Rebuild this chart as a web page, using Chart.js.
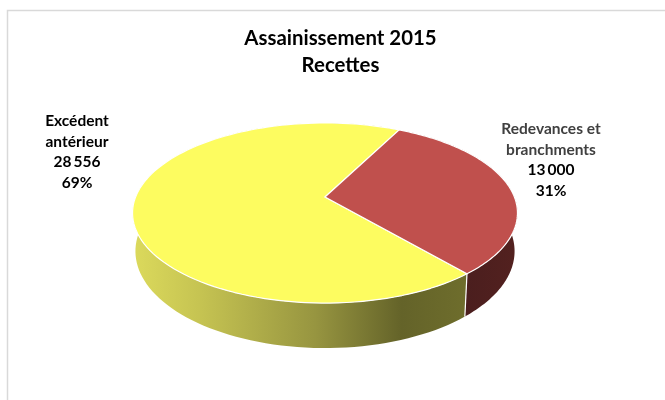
<!DOCTYPE html>
<html lang="fr">
<head>
  <meta charset="UTF-8" />
  <title>Assainissement 2015</title>
  <script src="https://cdn.jsdelivr.net/npm/chart.js"></script>
  <style>
    body { margin: 0; background: #fff; overflow: hidden; }
    canvas { display: block; }
  </style>
</head>
<body>
  <canvas id="pie" width="665" height="400"></canvas>

  <script>
    const titleLines = ['Assainissement 2015', 'Recettes'];
    const categories = ['Excédent antérieur', 'Redevances et branchments'];
    const categoryLines = [['Excédent', 'antérieur'], ['Redevances et', 'branchments']];
    const values = [28556, 13000];
    const valueLabels = ['28\u2009556', '13\u2009000'];
    const percents = ['69%', '31%'];
    const topColors = ['#fdfc60', '#c0504d'];

    // perspective of the tilted disc, measured on the picture
    const cx = 325, cy = 197, ax = 189.4, ay = 87.2, k = 0.1778;
    const depth = 45, shrink = 0.985;

    function rimPoint(a, lower) {
      const X = Math.cos(a), Y = Math.sin(a), w = 1 - k * Y;
      const x = ax * X / w, y = ay * Y / w;
      if (!lower) return [cx + x, cy + y];
      return [cx + x * shrink, cy + y + depth * (1 - k) / w];
    }

    function rimPath(ctx, from, to, lower, first) {
      const n = 120;
      for (let i = 0; i <= n; i++) {
        const p = rimPoint(from + (to - from) * i / n, lower);
        if (i === 0 && first) ctx.moveTo(p[0], p[1]);
        else ctx.lineTo(p[0], p[1]);
      }
    }

    function sideFill(ctx, index) {
      if (index === 1) {
        const g = ctx.createLinearGradient(462, 0, 517, 0);
        g.addColorStop(0, '#4a1e1e');
        g.addColorStop(1, '#53211f');
        return g;
      }
      const g = ctx.createLinearGradient(132, 0, 465, 0);
      g.addColorStop(0, '#dcda5c');
      g.addColorStop(0.2, '#c6c452');
      g.addColorStop(0.55, '#979540');
      g.addColorStop(0.81, '#646329');
      g.addColorStop(1, '#6e6d2c');
      return g;
    }

    const disc3d = {
      id: 'disc3d',
      beforeDatasetDraw(chart, args) {
        const ctx = chart.ctx;
        const arcs = args.meta.data;
        ctx.save();
        ctx.lineJoin = 'round';
        // sides first, the top face covers what is hidden
        arcs.forEach((arc, i) => {
          ctx.beginPath();
          rimPath(ctx, arc.startAngle, arc.endAngle, false, true);
          rimPath(ctx, arc.endAngle, arc.startAngle, true, false);
          ctx.closePath();
          ctx.fillStyle = sideFill(ctx, i);
          ctx.fill();
        });
        // seam on the front between the two sides
        const seam = arcs[0].startAngle;
        const a = rimPoint(seam, false), b = rimPoint(seam, true);
        ctx.beginPath();
        ctx.moveTo(a[0], a[1]);
        ctx.lineTo(b[0], b[1]);
        ctx.strokeStyle = '#fff';
        ctx.lineWidth = 1.2;
        ctx.stroke();
        arcs.forEach(arc => {
          ctx.beginPath();
          ctx.moveTo(cx, cy);
          rimPath(ctx, arc.startAngle, arc.endAngle, false, false);
          ctx.closePath();
          ctx.fillStyle = arc.options.backgroundColor;
          ctx.fill();
          ctx.strokeStyle = arc.options.borderColor;
          ctx.lineWidth = arc.options.borderWidth;
          ctx.stroke();
        });
        ctx.restore();
        return false;
      }
    };

    const labelBlocks = {
      id: 'labelBlocks',
      afterDraw(chart) {
        const ctx = chart.ctx;
        const centers = [77, 551], tops = [121, 129];
        const nameColors = ['#000', '#404040'];
        ctx.save();
        ctx.font = 'bold 15.5px Lato';
        ctx.textAlign = 'center';
        ctx.textBaseline = 'middle';
        categories.forEach((c, i) => {
          const lines = [...categoryLines[i], valueLabels[i], percents[i]];
          lines.forEach((t, j) => {
            ctx.fillStyle = j < 2 ? nameColors[i] : '#000';
            ctx.fillText(t, centers[i], tops[i] + j * 20.5);
          });
        });
        ctx.restore();
      }
    };

    const frame = {
      id: 'frame',
      beforeDraw(chart) {
        const ctx = chart.ctx;
        ctx.save();
        ctx.strokeStyle = '#d9d9d9';
        ctx.lineWidth = 1.5;
        ctx.beginPath();
        ctx.moveTo(7.5, 400);
        ctx.lineTo(7.5, 10.5);
        ctx.lineTo(665, 10.5);
        ctx.stroke();
        ctx.restore();
      }
    };

    new Chart(document.getElementById('pie'), {
      type: 'pie',
      data: {
        labels: categories,
        datasets: [{
          data: values,
          backgroundColor: topColors,
          borderColor: '#fff',
          borderWidth: 1.2
        }]
      },
      options: {
        responsive: false,
        animation: false,
        rotation: 139.6,
        layout: { padding: { left: 16, top: 25 } },
        plugins: {
          legend: { display: false },
          tooltip: { enabled: false },
          title: {
            display: true,
            fullSize: false,
            text: titleLines,
            color: '#000',
            font: { family: 'Lato', size: 20.4, weight: 'bold', lineHeight: 1.32 },
            padding: 0
          }
        }
      },
      plugins: [frame, disc3d, labelBlocks]
    });
  </script>
</body>
</html>
